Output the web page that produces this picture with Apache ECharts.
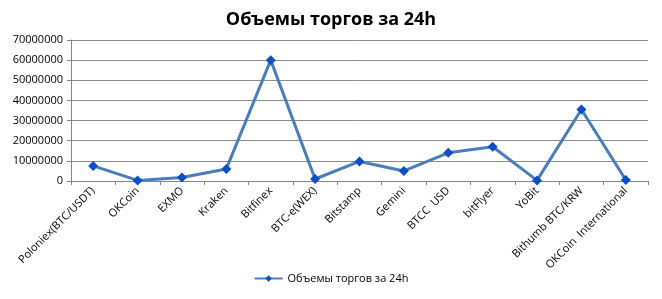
<!DOCTYPE html>
<html><head><meta charset="utf-8">
<script src="https://cdn.jsdelivr.net/npm/echarts@6/dist/echarts.min.js"></script>
<style>html,body{margin:0;padding:0;background:#fff}#c{width:662px;height:299px}</style>
</head><body><div id="c"></div>
<script>
const categories = ["Poloniex(BTC/USDT)","OKCoin","EXMO","Kraken","Bitfinex","BTC-e(WEX)","Bitstamp","Gemini","BTCC  USD","bitFlyer","YoBit","Bithumb BTC/KRW","OKCoin  International"];
const values = [7500000,300000,1700000,6000000,60000000,1000000,9700000,5000000,14000000,17000000,300000,35500000,500000];
const seriesName = "Объемы торгов за 24h";
const titleText = "Объемы торгов за 24h";

const chart = echarts.init(document.getElementById('c'));
chart.setOption({
  animation:false,
  title:{text:titleText,left:'center',top:6,textStyle:{fontFamily:'Open Sans',fontWeight:'bold',fontSize:18,color:'#000'}},
  grid:{left:71,right:14,top:40,bottom:118},
  legend:{bottom:10,left:'center',itemWidth:28,itemHeight:8,textStyle:{fontFamily:'Open Sans',fontSize:11,color:'#000'},data:[seriesName]},
  xAxis:{type:'category',data:categories,boundaryGap:true,
    axisLine:{lineStyle:{color:'#868686'}},
    axisTick:{show:true,interval:0,length:4,lineStyle:{color:'#868686'}},
    axisLabel:{interval:0,rotate:45,fontFamily:'Open Sans',fontSize:11,color:'#000',margin:8}},
  yAxis:{type:'value',min:0,max:70000000,interval:10000000,
    axisLine:{show:true,lineStyle:{color:'#868686'}},
    axisTick:{show:true,length:4,lineStyle:{color:'#868686'}},
    splitLine:{lineStyle:{color:'#8c8c8c'}},
    axisLabel:{fontFamily:'Open Sans',fontSize:11,color:'#000',margin:8,formatter:function(v){return String(v);}}},
  series:[{name:seriesName,type:'line',data:values,symbol:'diamond',symbolSize:10,
    lineStyle:{color:'#4a7ebb',width:3},itemStyle:{color:'#0a4fc4'}}]
});
</script></body></html>
